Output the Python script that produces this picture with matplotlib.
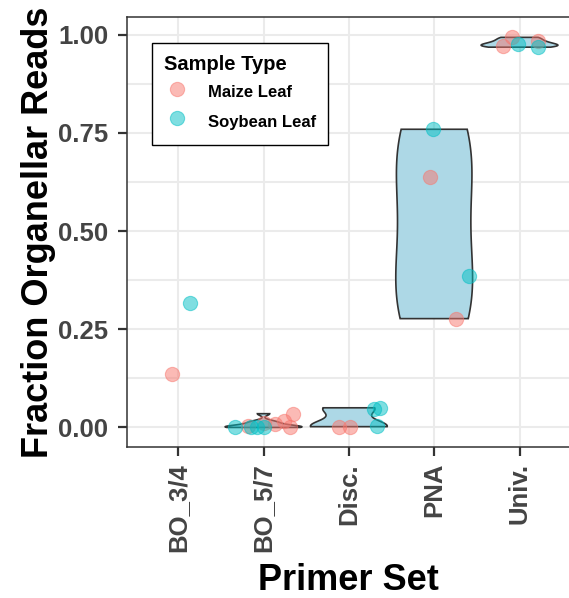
import matplotlib
matplotlib.use("Agg")
import matplotlib.pyplot as plt
from matplotlib.ticker import MultipleLocator
import numpy as np

plt.rcParams['font.family'] = ['Liberation Sans', 'DejaVu Sans']
plt.rcParams['font.weight'] = 'bold'

# ---- data
primer_sets = ["BO_3/4", "BO_5/7", "Disc.", "PNA", "Univ."]

# one entry per sample: primer set, sample type, fraction, jitter offset
primer = ["BO_3/4", "BO_3/4",
          "BO_5/7", "BO_5/7", "BO_5/7", "BO_5/7",
          "BO_5/7", "BO_5/7", "BO_5/7", "BO_5/7", "BO_5/7", "BO_5/7",
          "Disc.", "Disc.", "Disc.", "Disc.", "Disc.",
          "PNA", "PNA", "PNA", "PNA",
          "Univ.", "Univ.", "Univ.", "Univ.", "Univ."]
sample = ["Maize Leaf", "Soybean Leaf",
          "Soybean Leaf", "Soybean Leaf", "Soybean Leaf", "Soybean Leaf",
          "Maize Leaf", "Maize Leaf", "Maize Leaf", "Maize Leaf", "Maize Leaf", "Maize Leaf",
          "Maize Leaf", "Maize Leaf", "Soybean Leaf", "Soybean Leaf", "Soybean Leaf",
          "Soybean Leaf", "Soybean Leaf", "Maize Leaf", "Maize Leaf",
          "Maize Leaf", "Maize Leaf", "Maize Leaf", "Soybean Leaf", "Soybean Leaf"]
fraction = [0.135, 0.317,
            0.000, 0.001, 0.000, 0.002,
            0.003, 0.012, 0.008, 0.016, 0.000, 0.035,
            0.002, 0.002, 0.048, 0.050, 0.004,
            0.759, 0.386, 0.638, 0.277,
            0.972, 0.993, 0.984, 0.976, 0.968]
jitter = [-0.07, 0.14,
          -0.34, -0.15, -0.08, 0.00,
          -0.18, 0.01, 0.13, 0.24, 0.31, 0.35,
          -0.11, 0.01, 0.29, 0.36, 0.33,
          -0.01, 0.41, -0.05, 0.26,
          -0.19, -0.09, 0.22, -0.02, 0.22]

sample_types = ["Maize Leaf", "Soybean Leaf"]
sample_colors = {"Maize Leaf": "#F8766D", "Soybean Leaf": "#00BFC4"}

primer = np.array(primer)
sample = np.array(sample)
fraction = np.array(fraction)
jitter = np.array(jitter)


def bw_nrd0(x):
    hi = np.std(x, ddof=1)
    q1, q3 = np.percentile(x, [25, 75])
    lo = min(hi, (q3 - q1) / 1.34)
    if lo == 0:
        lo = hi if hi > 0 else 1
    return 0.9 * lo * len(x) ** (-0.2)


def violin_shape(x, n=512):
    bw = bw_nrd0(x)
    ys = np.linspace(x.min(), x.max(), n)
    dens = np.exp(-0.5 * ((ys[:, None] - x[None, :]) / bw) ** 2).sum(axis=1)
    return ys, dens / dens.max()


W, H = 569, 598
fig = plt.figure(figsize=(W / 100, H / 100), dpi=100)
ax = fig.add_axes([127 / W, 1 - 447 / H, 442 / W + 0.003, 430 / H])

# violins (scaled to equal width like ggplot scale="width")
for i, ps in enumerate(primer_sets):
    vals = fraction[primer == ps]
    if len(vals) < 3:
        continue
    ys, w = violin_shape(vals)
    half = 0.45 * w
    xs = np.concatenate([i + half, (i - half)[::-1]])
    yy = np.concatenate([ys, ys[::-1]])
    ax.fill(xs, yy, facecolor="#ADD8E6", edgecolor="#333333", linewidth=1.2, zorder=2)

# jittered points
handles = []
for st in sample_types:
    m = sample == st
    xpos = np.array([primer_sets.index(p) for p in primer[m]]) + jitter[m]
    h = ax.scatter(xpos, fraction[m], s=105, color=sample_colors[st], alpha=0.5,
                   edgecolors=sample_colors[st], linewidths=0.8, zorder=3, label=st)
    handles.append(h)

ax.set_xlim(-0.6, len(primer_sets) - 0.4)
ax.set_ylim(-0.0498, 1.0448)
ax.set_xticks(range(len(primer_sets)))
ax.set_xticklabels(primer_sets, rotation=90, fontsize=18.5, fontweight='bold', color='#444444')
ax.yaxis.set_major_locator(MultipleLocator(0.25))
ax.yaxis.set_minor_locator(MultipleLocator(0.125))
ax.set_yticks([0, 0.25, 0.5, 0.75, 1.0])
ax.set_yticklabels(["0.00", "0.25", "0.50", "0.75", "1.00"], fontsize=18.5,
                   fontweight='bold', color='#444444')
ax.tick_params(axis='both', which='major', length=6.5, width=1.6, color='#333333')
ax.tick_params(axis='y', which='major', pad=7)
ax.tick_params(axis='x', which='major', pad=5)
ax.tick_params(axis='y', which='minor', length=0)

ax.grid(True, which='both', axis='y', color='#EBEBEB', linewidth=1.5, zorder=0)
ax.grid(True, which='major', axis='x', color='#EBEBEB', linewidth=1.5, zorder=0)
ax.set_axisbelow(True)
for side in ['left', 'bottom', 'top']:
    ax.spines[side].set_color('#333333')
    ax.spines[side].set_linewidth(1.1)
ax.spines['right'].set_visible(False)

ax.set_xlabel("Primer Set", fontsize=26, fontweight='bold', labelpad=8)
ax.set_ylabel("Fraction Organellar Reads", fontsize=26, fontweight='bold', labelpad=1.5)

leg = ax.legend(handles=handles, title="Sample Type", loc='upper left',
                bbox_to_anchor=(25 / 442, (447 - 43) / 430), borderaxespad=0,
                prop={'size': 12, 'weight': 'bold'}, title_fontproperties={'size': 14.5, 'weight': 'bold'},
                frameon=True, fancybox=False, edgecolor='black', framealpha=1,
                alignment='left', handlelength=1.6, handletextpad=1.08, labelspacing=0.4,
                handleheight=1.75, borderpad=0.7)
leg.get_frame().set_linewidth(1.0)

fig.savefig("out.png", dpi=100)
